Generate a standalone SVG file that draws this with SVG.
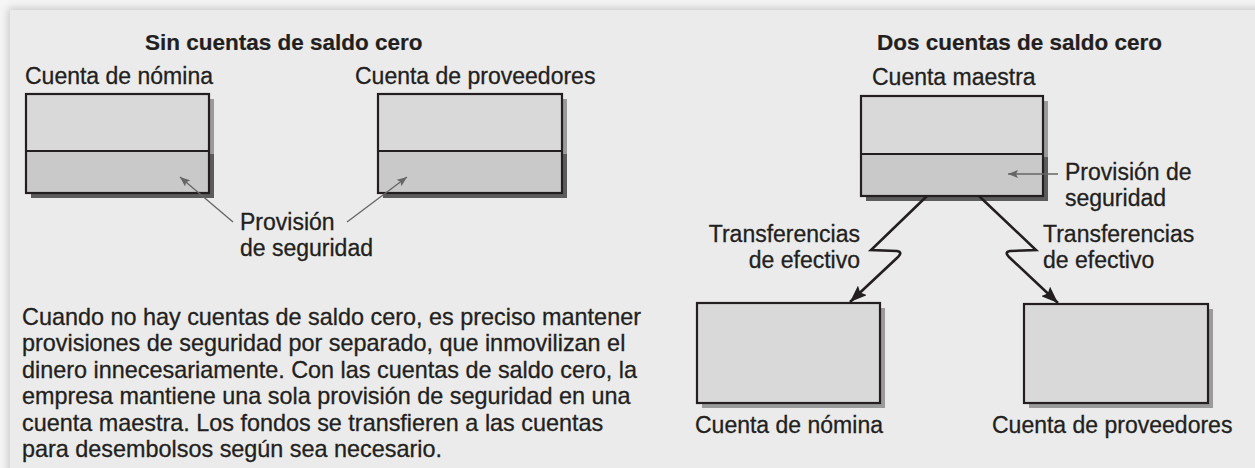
<svg xmlns="http://www.w3.org/2000/svg" width="1255" height="468" viewBox="0 0 1255 468">
<style>
  text { font-family: "Liberation Sans", Arial, Helvetica, sans-serif; fill: #231f20; font-size: 23px; stroke: #231f20; stroke-width: 0.3; }
  .title { font-weight: bold; font-size: 22.5px; stroke-width: 0.2; }
  .para { font-size: 23.4px; }
  .box { stroke: #231f20; stroke-width: 2.2; }
  .top { fill: #d9d9d9; }
  .bot { fill: #c9c9c9; }
  .div { stroke: #231f20; stroke-width: 2.2; }
  .shd { fill: #5c5c5c; }
  .shl { fill: #9b9b9b; }
  .thin { stroke: #666; stroke-width: 1.3; fill: none; }
  .zig { stroke: #231f20; stroke-width: 2.6; fill: none; stroke-linejoin: miter; }
</style>
<defs>
  <filter id="pshadow" x="-5%" y="-5%" width="110%" height="110%">
    <feGaussianBlur stdDeviation="4"/>
  </filter>
  <marker id="ag" viewBox="0 0 10 8" refX="10" refY="4" markerWidth="10" markerHeight="8" markerUnits="userSpaceOnUse" orient="auto">
    <path d="M0,0 L10,4 L0,8 L2,4 Z" fill="#666"/>
  </marker>
  <marker id="ab" viewBox="0 0 17 13" refX="17" refY="6.5" markerWidth="17" markerHeight="13" markerUnits="userSpaceOnUse" orient="auto">
    <path d="M0,0 L17,6.5 L0,13 L3,6.5 Z" fill="#231f20"/>
  </marker>
</defs>

<!-- background panel -->
<rect x="0" y="0" width="1255" height="468" fill="#f6f6f6"/>
<rect x="8" y="8" width="1260" height="470" fill="#c8c8c8" filter="url(#pshadow)"/>
<rect x="10" y="10" width="1245" height="458" fill="#ebebeb"/>

<text class="title" x="145" y="50">Sin cuentas de saldo cero</text>
<text class="title" x="877" y="50">Dos cuentas de saldo cero</text>

<g id="nomina-sin">
  <text x="25" y="84">Cuenta de nómina</text>
  <rect class="shd" x="31" y="99" width="183" height="99"/>
  <rect class="shl" x="209" y="99" width="5" height="55"/>
  <rect class="top" x="26" y="94" width="183" height="57"/>
  <rect class="bot" x="26" y="151" width="183" height="42"/>
  <rect class="box" x="26" y="94" width="183" height="99" fill="none"/>
  <line class="div" x1="26" y1="151" x2="209" y2="151"/>
</g>

<g id="proveedores-sin">
  <text x="355" y="84">Cuenta de proveedores</text>
  <rect class="shd" x="383" y="99" width="184" height="99"/>
  <rect class="shl" x="562" y="99" width="5" height="55"/>
  <rect class="top" x="378" y="94" width="184" height="57"/>
  <rect class="bot" x="378" y="151" width="184" height="42"/>
  <rect class="box" x="378" y="94" width="184" height="99" fill="none"/>
  <line class="div" x1="378" y1="151" x2="562" y2="151"/>
</g>

<g id="provision-sin">
  <text x="240" y="230">Provisión</text>
  <text x="240" y="256">de seguridad</text>
</g>

<g id="maestra">
  <text x="872" y="85">Cuenta maestra</text>
  <rect class="shd" x="866" y="101" width="182" height="100"/>
  <rect class="shl" x="1043" y="101" width="5" height="56"/>
  <rect class="top" x="861" y="96" width="182" height="58"/>
  <rect class="bot" x="861" y="154" width="182" height="42"/>
  <rect class="box" x="861" y="96" width="182" height="100" fill="none"/>
  <line class="div" x1="861" y1="154" x2="1043" y2="154"/>
</g>

<g id="provision-con">
  <text x="1065" y="180">Provisión de</text>
  <text x="1065" y="206">seguridad</text>
</g>

<g id="transf-izq">
  <text x="860" y="242" text-anchor="end">Transferencias</text>
  <text x="860" y="268" text-anchor="end">de efectivo</text>
</g>

<g id="transf-der">
  <text x="1043" y="242">Transferencias</text>
  <text x="1043" y="268">de efectivo</text>
</g>

<g id="nomina-con">
  <rect class="shl" x="702" y="308" width="183" height="100"/>
  <rect class="top box" x="697" y="303" width="183" height="100"/>
  <text x="695" y="433">Cuenta de nómina</text>
</g>

<g id="proveedores-con">
  <rect class="shl" x="1029" y="309" width="184" height="99"/>
  <rect class="top box" x="1024" y="304" width="184" height="99"/>
  <text x="992" y="433">Cuenta de proveedores</text>
</g>

<g id="nota">
  <text class="para" x="22" y="325">Cuando no hay cuentas de saldo cero, es preciso mantener</text>
  <text class="para" x="22" y="351">provisiones de seguridad por separado, que inmovilizan el</text>
  <text class="para" x="22" y="378">dinero innecesariamente. Con las cuentas de saldo cero, la</text>
  <text class="para" x="22" y="404">empresa mantiene una sola provisión de seguridad en una</text>
  <text class="para" x="22" y="431">cuenta maestra. Los fondos se transfieren a las cuentas</text>
  <text class="para" x="22" y="457">para desembolsos según sea necesario.</text>
</g>

<g id="connectors">
  <line class="thin" x1="233" y1="222" x2="180" y2="177" marker-end="url(#ag)"/>
  <line class="thin" x1="347" y1="222" x2="407" y2="177" marker-end="url(#ag)"/>
  <line class="thin" x1="1058" y1="174" x2="1008" y2="174" marker-end="url(#ag)"/>
  <path class="zig" d="M927,196 L871,250 L897,251 Q903,252 898,257 L850,302" marker-end="url(#ab)"/>
  <path class="zig" d="M979,196 L1036,250 L1010,251 Q1004,252 1009,257 L1058,303" marker-end="url(#ab)"/>
</g>
</svg>
